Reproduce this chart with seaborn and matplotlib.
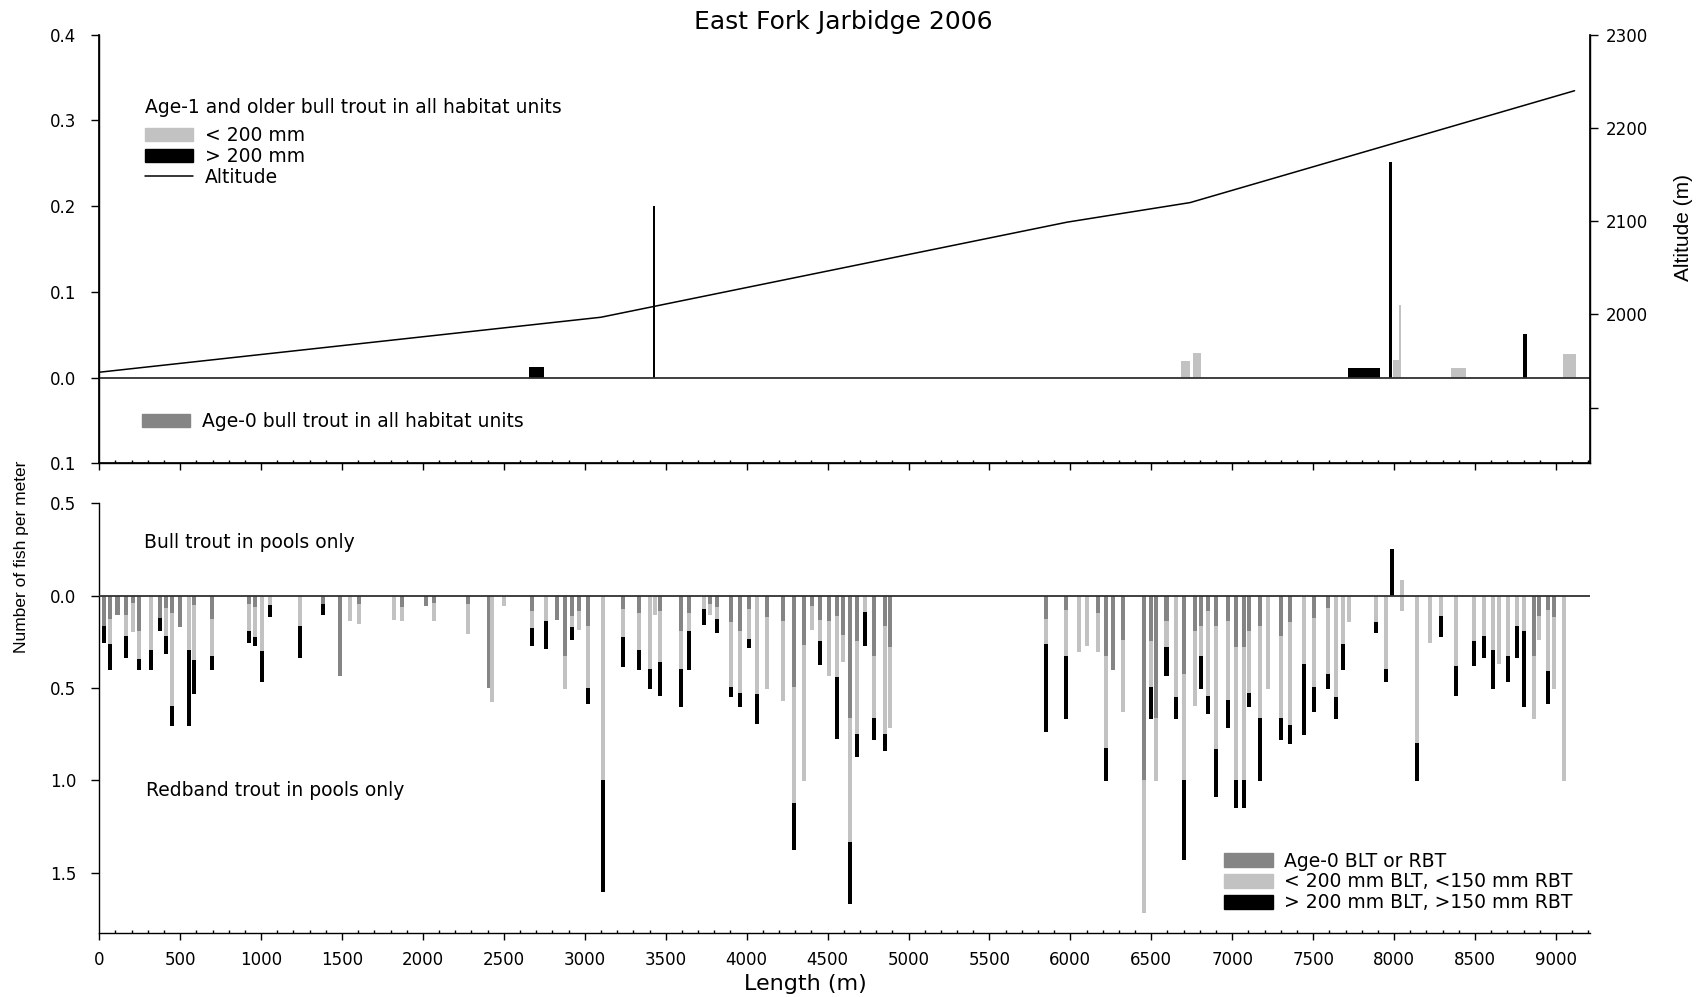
import matplotlib
matplotlib.use('Agg')
import matplotlib.pyplot as plt
import seaborn as sns
import numpy as np
from matplotlib.patches import Patch
from matplotlib.lines import Line2D
from matplotlib.ticker import MultipleLocator, FuncFormatter, FixedLocator

sns.set_theme(style='ticks')
plt.rcParams['font.family'] = ['DejaVu Sans']
plt.rcParams.update({'text.color': 'black', 'axes.labelcolor': 'black',
                     'xtick.color': 'black', 'ytick.color': 'black',
                     'axes.edgecolor': 'black'})
ARIAL = ['Liberation Sans', 'DejaVu Sans']

AGE0 = '#858585'
SMALL = '#c2c2c2'
LARGE = '#000000'

# altitude profile along the stream
alt_len = [0, 3100, 5980, 6740, 9115]
alt_m = [1938, 1997, 2099, 2120, 2240]

# age-1 and older bull trout, all habitat units (fish per meter)
unit_pos = [2700, 3427, 6712, 6781, 7813, 7976, 8017, 8037, 8400, 8811, 9084]
unit_len = [95, 17, 60, 48, 198, 17, 50, 14, 95, 25, 80]
unit_dens = [0.0128, 0.200, 0.0195, 0.0288, 0.0113, 0.2513, 0.020, 0.0848, 0.0113, 0.0506, 0.0277]
unit_size = ['large', 'large', 'small', 'small', 'large', 'large', 'small', 'small', 'small', 'large', 'small']

# bull trout in pools only (plotted upward)
blt_pos = [7986, 8050]
blt_dens = [0.253, 0.087]
blt_size = ['large', 'small']

# redband trout in pools only (plotted downward): age-0, small, large densities
pool_pos = [29, 68, 113, 165, 206, 247, 320, 376, 412, 451, 499, 552, 587, 694,
            927, 962, 1006, 1055, 1240, 1385, 1488, 1549, 1603, 1821, 1871, 2019,
            2069, 2277, 2410, 2424, 2503,
            2672, 2763, 2827, 2878, 2919, 2965, 3022, 3115, 3234, 3333, 3405, 3436,
            3465, 3595, 3646, 3739, 3776, 3817, 3906, 3958, 4013, 4065, 4125, 4226,
            4294, 4356, 4405, 4455, 4509, 4558, 4593, 4637, 4682, 4734, 4785, 4853, 4888,
            5852, 5975, 6056, 6101, 6173, 6222, 6262, 6325, 6457, 6497, 6528, 6594,
            6651, 6701, 6768, 6808, 6852, 6901, 6974, 7021, 7073, 7103, 7171, 7223,
            7303, 7359, 7443, 7505,
            7589, 7641, 7685, 7723, 7889, 7951, 8050, 8142, 8224, 8292, 8383, 8494,
            8554, 8610, 8649, 8705, 8760, 8805, 8867, 8898, 8949, 8986, 9050]
pool_age0 = [0.163, 0.126, 0.105, 0.105, 0.040, 0.193, 0, 0.121, 0.069, 0.094, 0.170, 0, 0.051, 0.126,
             0.047, 0.061, 0, 0, 0, 0.043, 0.433, 0, 0.043, 0, 0.061, 0.054,
             0.040, 0.043, 0.502, 0, 0,
             0.085, 0, 0.130, 0.325, 0.112, 0.085, 0.163, 0, 0.072, 0.094, 0, 0,
             0.085, 0.193, 0.094, 0, 0.043, 0.061, 0.144, 0.193, 0.072, 0, 0.116, 0.139,
             0.495, 0.265, 0.058, 0.130, 0.139, 0.108, 0.211, 0.663, 0.247, 0, 0.325, 0.163, 0.278,
             0.126, 0.079, 0, 0, 0.094, 0.325, 0.401, 0.242, 0.997, 0.247, 0.663, 0.139,
             0, 0.423, 0.193, 0.163, 0.085, 0.163, 0.139, 0.278, 0.278, 0.193, 0.163, 0,
             0.217, 0.144, 0, 0.121,
             0.067, 0, 0, 0, 0, 0, 0, 0, 0, 0, 0, 0,
             0, 0, 0, 0, 0, 0, 0.325, 0.108, 0.076, 0.116, 0]
pool_small = [0, 0.134, 0, 0.112, 0.155, 0.150, 0.293, 0, 0.151, 0.502, 0, 0.296, 0.296, 0.199,
              0.146, 0.163, 0.302, 0.051, 0.163, 0, 0, 0.139, 0.110, 0.130, 0.076, 0,
              0.097, 0.163, 0, 0.574, 0.054,
              0.090, 0.139, 0, 0.179, 0.058, 0.103, 0.334, 0.997, 0.152, 0.202, 0.395, 0.103,
              0.276, 0.202, 0.099, 0.072, 0.060, 0.065, 0.351, 0.334, 0.163, 0.531, 0.388, 0.433,
              0.628, 0.737, 0.130, 0.117, 0.293, 0.333, 0.150, 0.668, 0.501, 0.090, 0.338, 0.585, 0.439,
              0.134, 0.250, 0.303, 0.274, 0.209, 0.500, 0, 0.385, 0.718, 0.248, 0.339, 0.139,
              0.549, 0.574, 0.406, 0.166, 0.457, 0.668, 0.428, 0.719, 0.719, 0.334, 0.500, 0.504,
              0.446, 0.555, 0.368, 0.374,
              0.356, 0.549, 0.260, 0.144, 0.144, 0.395, 0.085, 0.795, 0.256, 0.108, 0.383, 0.247,
              0.220, 0.296, 0.368, 0.329, 0.163, 0.193, 0.343, 0.130, 0.334, 0.388, 1.002]
pool_large = [0.093, 0.144, 0, 0.121, 0, 0.061, 0.111, 0.070, 0.094, 0.108, 0, 0.408, 0.187, 0.079,
              0.063, 0.050, 0.164, 0.065, 0.175, 0.062, 0, 0, 0, 0, 0, 0,
              0, 0, 0, 0, 0,
              0.099, 0.150, 0, 0, 0.068, 0, 0.090, 0.605, 0.164, 0.108, 0.109, 0,
              0.184, 0.208, 0.211, 0.085, 0, 0.076, 0.056, 0.076, 0.048, 0.164, 0, 0,
              0.253, 0, 0, 0.130, 0, 0.335, 0, 0.337, 0.126, 0.184, 0.117, 0.090, 0,
              0.475, 0.339, 0, 0, 0, 0.177, 0, 0, 0, 0.173, 0, 0.154,
              0.119, 0.433, 0, 0.175, 0.097, 0.256, 0.150, 0.150, 0.150, 0.076, 0.339, 0,
              0.117, 0.103, 0.385, 0.132,
              0.081, 0.119, 0.144, 0, 0.058, 0.074, 0, 0.207, 0, 0.118, 0.159, 0.132,
              0.118, 0.208, 0, 0.140, 0.175, 0.410, 0, 0, 0.177, 0, 0]

size_color = {'small': SMALL, 'large': LARGE}
abs_fmt = FuncFormatter(lambda v, p: f'{abs(v):.1f}')

fig = plt.figure(figsize=(17.05, 9.97), dpi=100)
ax_top = fig.add_axes([0.0582, 0.5353, 0.8743, 0.4298])
ax_bot = fig.add_axes([0.0582, 0.0639, 0.8743, 0.4313])

# ---- top panel ----
ax_top.bar(unit_pos, unit_dens, width=unit_len, color=[size_color[s] for s in unit_size],
           linewidth=0, zorder=2)
ax_top.axhline(0, color='#303030', lw=1.3, zorder=3)
ax_top.set_ylim(-0.1, 0.4)
ax_top.yaxis.set_major_locator(MultipleLocator(0.1))
ax_top.yaxis.set_major_formatter(abs_fmt)

ax_alt = ax_top.twinx()
sns.lineplot(x=alt_len, y=alt_m, ax=ax_alt, color='black', lw=1.1)
ax_alt.set_ylim(1840.3, 2300)
ax_alt.yaxis.set_major_locator(FixedLocator([1900, 2000, 2100, 2200, 2300]))
ax_alt.set_yticklabels(['', '2000', '2100', '2200', '2300'])
ax_alt.set_ylabel('')
ax_alt.tick_params(axis='y', direction='out', length=5.5, width=1, labelsize=12, pad=6)
ax_alt.spines['top'].set_visible(False)

# ---- bottom panel ----
pa0 = np.array(pool_age0)
psm = np.array(pool_small)
plg = np.array(pool_large)
ax_bot.bar(pool_pos, -pa0, width=25, color=AGE0, linewidth=0, zorder=2)
ax_bot.bar(pool_pos, -psm, bottom=-pa0, width=25, color=SMALL, linewidth=0, zorder=2)
ax_bot.bar(pool_pos, -plg, bottom=-(pa0 + psm), width=25, color=LARGE, linewidth=0, zorder=2)
ax_bot.bar(blt_pos, blt_dens, width=25, color=[size_color[s] for s in blt_size],
           linewidth=0, zorder=2)
ax_bot.axhline(0, color='#303030', lw=1.3, zorder=3)
ax_bot.set_ylim(-1.827, 0.5)
ax_bot.yaxis.set_major_locator(FixedLocator([0.5, 0.0, -0.5, -1.0, -1.5]))
ax_bot.yaxis.set_major_formatter(abs_fmt)
ax_bot.spines['right'].set_visible(False)

for ax in (ax_top, ax_bot):
    ax.set_xlim(0, 9210)
    ax.spines['top'].set_visible(False)
    ax.xaxis.set_major_locator(MultipleLocator(500))
    ax.xaxis.set_minor_locator(MultipleLocator(100))
    ax.tick_params(axis='x', which='major', direction='out', length=5, width=1, labelsize=12, pad=8)
    ax.tick_params(axis='x', which='minor', direction='in', length=2.5, width=1)
    ax.tick_params(axis='y', direction='out', length=5.5, width=1, labelsize=12, pad=11)
    for s in ax.spines.values():
        s.set_linewidth(1.0)
ax_top.tick_params(axis='x', labelbottom=False)

# ---- legends and labels ----
ax_top.text(0.0304, 0.830, 'Age-1 and older bull trout in all habitat units',
            transform=ax_top.transAxes, fontsize=13.5, va='center', ha='left')
leg1 = ax_top.legend(
    handles=[Patch(color=SMALL), Patch(color=LARGE), Line2D([], [], color='black', lw=1.1)],
    labels=['< 200 mm', '> 200 mm', 'Altitude'],
    fontsize=13.5, loc='center left', bbox_to_anchor=(0.0304, 0.716), frameon=False,
    borderpad=0, borderaxespad=0, handlelength=2.6, handleheight=0.7,
    handletextpad=0.6, labelspacing=0.1)
ax_top.add_artist(leg1)
ax_top.legend(handles=[Patch(color=AGE0)], labels=['Age-0 bull trout in all habitat units'],
              fontsize=13.5, loc='center left', bbox_to_anchor=(0.0285, 0.097), frameon=False,
              borderpad=0, borderaxespad=0, handlelength=2.6, handleheight=0.7,
              handletextpad=0.6)

ax_bot.text(0.0297, 0.9086, 'Bull trout in pools only', transform=ax_bot.transAxes,
            fontsize=13.5, va='center', ha='left')
ax_bot.text(0.0311, 0.332, 'Redband trout in pools only', transform=ax_bot.transAxes,
            fontsize=13.5, va='center', ha='left')
ax_bot.legend(handles=[Patch(color=AGE0), Patch(color=SMALL), Patch(color=LARGE)],
              labels=['Age-0 BLT or RBT', '< 200 mm BLT, <150 mm RBT', '> 200 mm BLT, >150 mm RBT'],
              fontsize=13.5, loc='upper left', bbox_to_anchor=(0.7547, 0.19), frameon=False,
              borderpad=0, borderaxespad=0, handlelength=2.6, handleheight=0.8,
              handletextpad=0.6, labelspacing=0.1)

fig.text(0.4949, 0.978, 'East Fork Jarbidge 2006', ha='center', va='center', fontsize=18)
fig.text(0.4726, 0.013, 'Length (m)', ha='center', va='center', fontsize=16)
fig.text(0.0128, 0.4416, 'Number of fish per meter', rotation=90, ha='center', va='center',
         fontsize=12.5, family=ARIAL)
fig.text(0.9873, 0.7723, 'Altitude (m)', rotation=90, ha='center', va='center',
         fontsize=15, family=ARIAL)

fig.savefig('out.png', dpi=100)
